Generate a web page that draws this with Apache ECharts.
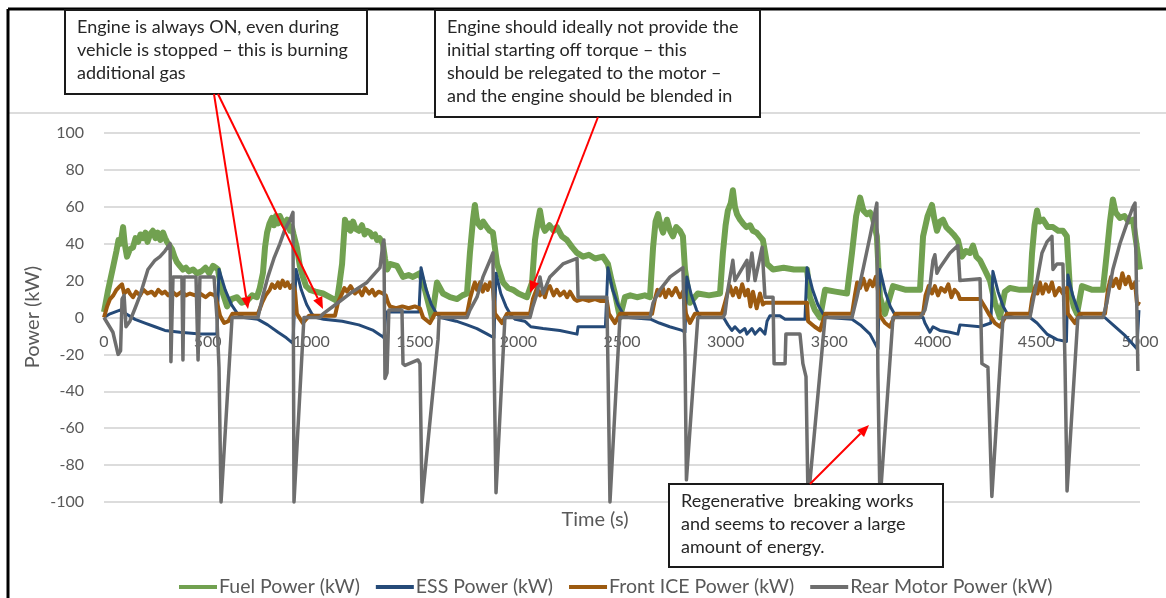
<!DOCTYPE html>
<html>
<head>
<meta charset="utf-8">
<script src="https://cdn.jsdelivr.net/npm/echarts@6/dist/echarts.min.js"></script>
<style>
  html, body { margin: 0; padding: 0; background: #ffffff; }
  #chart { width: 1166px; height: 598px; }
</style>
</head>
<body>
<div id="chart"></div>
<script>
// Power traces over the drive cycle: [time (s), power (kW)]
const fuelPower = [
  [0,3],[20,15],[45,28],[60,36],[70,42],[80,40],[92,49],[100,40],[111,33],[125,37],[140,38],[152,43],[165,41],[176,45],[188,43],[200,46],[210,41],[222,45],[236,47],[248,43],[260,46],[272,42],[285,46],[295,43],[304,41],[316,39],[328,37],[340,33],[352,30],[366,28],[381,26],[395,27],[410,25],[430,26],[449,24],[470,25],[490,27],[508,24],[526,28],[540,27],[550,26],[562,18],[574,13],[594,6],[615,10],[642,11],[665,8],[690,9],[715,12],[738,11],[752,16],[767,24],[777,38],[787,46],[799,51],[811,54],[820,50],[830,55],[840,51],[849,55],[860,52],[870,50],[884,53],[898,47],[907,49],[915,45],[931,38],[945,28],[960,22],[975,17],[994,15],[1020,14],[1057,13],[1090,11],[1124,9],[1136,18],[1149,29],[1163,53],[1172,48],[1180,51],[1190,47],[1202,52],[1215,48],[1230,47],[1245,50],[1258,45],[1269,47],[1284,46],[1295,44],[1308,45],[1318,42],[1330,43],[1346,40],[1356,32],[1366,26],[1380,29],[1414,28],[1443,22],[1470,23],[1491,22],[1525,24],[1549,15],[1583,0],[1607,19],[1636,13],[1670,11],[1704,10],[1730,12],[1752,13],[1766,35],[1781,53],[1790,61],[1798,54],[1805,51],[1818,49],[1830,52],[1848,49],[1862,47],[1877,46],[1897,29],[1926,19],[1950,16],[1974,15],[2000,13],[2041,11],[2066,19],[2080,42],[2094,52],[2104,58],[2116,50],[2128,47],[2150,50],[2170,47],[2186,49],[2210,44],[2234,42],[2260,38],[2283,35],[2312,33],[2340,34],[2370,32],[2408,33],[2432,29],[2450,20],[2466,13],[2490,0],[2514,11],[2540,12],[2572,11],[2610,12],[2635,11],[2650,38],[2662,52],[2674,56],[2686,50],[2698,46],[2717,53],[2732,47],[2746,44],[2762,49],[2780,47],[2794,44],[2804,26],[2828,8],[2866,13],[2920,12],[2973,13],[2987,35],[3000,50],[3011,58],[3025,62],[3035,69],[3045,60],[3055,56],[3070,53],[3084,51],[3100,49],[3118,50],[3132,47],[3150,46],[3165,44],[3180,42],[3200,29],[3229,26],[3280,27],[3330,26],[3393,26],[3407,11],[3431,4],[3456,0],[3480,15],[3530,14],[3586,13],[3610,35],[3630,55],[3649,65],[3665,58],[3682,56],[3697,57],[3711,54],[3730,44],[3745,11],[3769,2],[3808,17],[3870,15],[3938,15],[3953,44],[3975,55],[3996,61],[4008,53],[4020,47],[4035,52],[4049,53],[4065,49],[4083,47],[4100,45],[4121,42],[4141,33],[4160,36],[4179,35],[4194,39],[4210,33],[4228,31],[4250,26],[4276,20],[4300,8],[4324,0],[4348,14],[4372,16],[4420,15],[4469,15],[4479,35],[4491,50],[4503,58],[4515,52],[4532,53],[4555,49],[4580,49],[4605,47],[4628,47],[4647,44],[4662,15],[4680,6],[4696,2],[4720,17],[4770,15],[4821,15],[4840,35],[4855,52],[4869,64],[4882,57],[4903,54],[4925,55],[4945,52],[4966,53],[4985,38],[5000,26]
];

const essPower = [
  [0,0],[29,2],[77,4],[106,2],[150,-1],[198,-3],[246,-5],[294,-7],[367,-8],[463,-9],[545,-9],[555,26],[585,15],[615,7],[645,2],[675,0],[743,-1],[790,-4],[840,-8],[880,-11],[912,-14],[920,-14],[927,26],[952,15],[978,7],[1003,2],[1025,0],[1060,-1],[1150,-2],[1230,-4],[1300,-7],[1340,-10],[1351,-11],[1361,3],[1520,3],[1530,27],[1555,15],[1580,7],[1605,2],[1625,0],[1700,-2],[1752,-4],[1800,-6],[1850,-9],[1882,-11],[1892,24],[1915,13],[1940,6],[1965,1],[1985,-1],[2030,-2],[2041,-3],[2060,-5],[2119,-6],[2128,-5],[2200,-7],[2283,-9],[2288,-5],[2420,-5],[2432,27],[2455,15],[2480,7],[2505,2],[2530,0],[2640,-1],[2680,-3],[2730,-5],[2790,-7],[2804,-8],[2813,22],[2835,12],[2860,4],[2880,0],[2990,0],[3011,-4],[3030,-7],[3045,-5],[3069,-8],[3093,-6],[3103,-9],[3127,-6],[3142,-9],[3166,-6],[3190,-9],[3200,-2],[3214,1],[3262,1],[3287,-1],[3383,-1],[3393,27],[3420,15],[3445,7],[3470,2],[3495,0],[3610,-1],[3650,-4],[3697,-9],[3735,-17],[3745,26],[3770,14],[3795,6],[3820,1],[3842,0],[3953,0],[3962,-3],[3986,-8],[4001,-5],[4034,-7],[4083,-8],[4121,-9],[4131,-4],[4228,-5],[4280,-3],[4290,25],[4315,14],[4340,6],[4365,1],[4390,0],[4469,0],[4503,-3],[4551,-9],[4600,-12],[4645,-13],[4652,23],[4675,12],[4700,4],[4720,0],[4830,0],[4870,-4],[4930,-10],[4985,-17],[4995,4]
];

const frontIcePower = [
  [0,0],[15,6],[29,10],[45,12],[60,15],[77,17],[87,18],[97,13],[106,12],[116,15],[125,13],[140,11],[155,14],[174,12],[190,15],[210,13],[230,14],[246,12],[262,15],[280,13],[294,14],[310,12],[330,14],[350,12],[376,14],[395,12],[415,13],[440,12],[463,13],[490,11],[512,13],[536,12],[550,6],[560,1],[580,-3],[600,-2],[620,2],[743,2],[763,8],[780,12],[800,15],[811,18],[825,16],[840,19],[849,16],[862,20],[874,17],[886,19],[898,16],[912,18],[922,14],[931,2],[960,-3],[990,1],[1115,1],[1129,8],[1149,13],[1160,16],[1173,14],[1190,17],[1211,13],[1230,15],[1245,12],[1260,16],[1280,13],[1295,15],[1308,12],[1325,14],[1346,13],[1360,12],[1371,8],[1380,6],[1410,5],[1440,6],[1470,5],[1500,6],[1525,5],[1540,0],[1573,-3],[1597,2],[1752,2],[1766,10],[1781,16],[1790,19],[1800,15],[1815,19],[1828,14],[1840,18],[1852,15],[1863,19],[1877,16],[1887,2],[1921,-3],[1945,2],[2056,2],[2070,10],[2090,16],[2104,12],[2118,15],[2128,11],[2140,16],[2152,17],[2170,12],[2185,15],[2201,12],[2220,14],[2235,11],[2249,14],[2270,10],[2283,9],[2310,10],[2340,9],[2370,10],[2394,9],[2427,9],[2437,2],[2466,-3],[2490,2],[2645,2],[2659,10],[2671,15],[2683,12],[2697,16],[2710,11],[2725,15],[2740,12],[2760,16],[2780,11],[2794,14],[2809,2],[2828,-3],[2852,2],[2982,2],[2997,8],[3011,14],[3021,17],[3035,12],[3050,16],[3065,11],[3080,18],[3095,12],[3108,15],[3120,6],[3132,14],[3150,5],[3166,13],[3180,7],[3190,8],[3214,8],[3260,8],[3300,8],[3350,8],[3393,8],[3398,-2],[3430,-5],[3456,-7],[3480,2],[3610,2],[3624,12],[3635,19],[3649,16],[3665,21],[3680,15],[3697,20],[3710,17],[3725,22],[3735,15],[3745,1],[3770,-3],[3793,-5],[3820,2],[3953,2],[3965,12],[3980,17],[3996,13],[4010,17],[4025,12],[4040,16],[4059,14],[4075,18],[4090,11],[4105,15],[4121,13],[4131,10],[4160,10],[4200,10],[4228,10],[4250,6],[4270,2],[4300,-3],[4324,-5],[4358,2],[4469,2],[4479,10],[4495,17],[4505,13],[4517,19],[4530,13],[4545,18],[4560,14],[4575,19],[4590,12],[4610,16],[4628,13],[4647,16],[4652,2],[4686,-3],[4710,2],[4831,2],[4845,15],[4860,22],[4869,17],[4885,21],[4900,16],[4915,24],[4930,18],[4945,22],[4960,16],[4976,19],[4985,8],[5000,7]
];

const rearMotorPower = [
  [0,0],[43,-8],[68,-20],[80,-18],[87,10],[97,12],[106,-5],[125,-2],[150,5],[174,12],[212,26],[246,31],[270,33],[294,36],[319,40],[323,-24],[333,22],[376,22],[381,-23],[386,22],[444,22],[454,-23],[463,22],[531,22],[545,0],[555,-27],[565,-100],[618,0],[743,0],[763,10],[791,22],[820,32],[849,40],[874,48],[898,53],[912,57],[917,-100],[965,0],[1042,0],[1057,2],[1129,8],[1187,13],[1269,19],[1332,27],[1346,40],[1351,42],[1356,-33],[1366,-30],[1375,4],[1438,4],[1443,-25],[1453,-26],[1515,-23],[1525,-25],[1535,-100],[1612,-12],[1617,0],[1752,0],[1766,4],[1800,11],[1829,22],[1863,31],[1877,35],[1882,-20],[1892,-95],[1935,0],[2056,0],[2070,6],[2090,13],[2104,22],[2119,13],[2152,22],[2215,29],[2283,32],[2288,11],[2427,11],[2432,-25],[2442,-100],[2490,0],[2635,0],[2650,8],[2683,15],[2732,22],[2794,27],[2804,-20],[2811,-88],[2866,0],[2987,0],[2997,2],[3011,15],[3035,31],[3045,20],[3103,31],[3108,20],[3127,35],[3142,20],[3176,38],[3190,11],[3229,11],[3234,-25],[3287,-25],[3291,-9],[3359,-9],[3373,-25],[3388,-32],[3398,-100],[3480,0],[3610,0],[3634,11],[3663,26],[3697,44],[3730,62],[3735,-30],[3745,-100],[3808,0],[3938,0],[3962,4],[3986,17],[4001,31],[4010,34],[4020,24],[4034,27],[4083,35],[4121,39],[4131,20],[4228,21],[4237,-25],[4266,-27],[4285,-97],[4339,0],[4469,0],[4479,6],[4503,20],[4527,35],[4551,41],[4575,44],[4580,26],[4599,29],[4628,29],[4638,-25],[4648,-94],[4700,0],[4821,0],[4840,8],[4869,26],[4903,40],[4937,51],[4966,60],[4976,62],[4990,-29]
];

// Axis tick values
const timeTicks = [0, 500, 1000, 1500, 2000, 2500, 3000, 3500, 4000, 4500, 5000];
const powerTicks = [-100, -80, -60, -40, -20, 0, 20, 40, 60, 80, 100];

const seriesNames = ['Fuel Power (kW)', 'ESS Power (kW)', 'Front ICE Power (kW)', 'Rear Motor Power (kW)'];
const seriesColors = ['#71A150', '#254A78', '#9C5A10', '#6E6E6E'];
const seriesWidths = [6, 3, 4, 3.5];
const seriesData = [fuelPower, essPower, frontIcePower, rearMotorPower];

const FONT = 'Lato, "Liberation Sans", sans-serif';
const TEXT_COLOR = '#595959';

// Callout notes
const notes = [
  { x: 65, y: 10, w: 302, h: 84,
    lines: ['Engine is always ON, even during', 'vehicle is stopped \u2013 this is burning', 'additional gas'] },
  { x: 435, y: 10, w: 325, h: 107,
    lines: ['Engine should ideally not provide the', 'initial starting off torque \u2013 this', 'should be relegated to the motor \u2013', 'and the engine should be blended in'] },
  { x: 669, y: 484, w: 274, h: 83,
    lines: ['Regenerative  breaking works', 'and seems to recover a large', 'amount of energy.'] }
];
const pointers = [
  [214, 94, 248, 309],
  [218, 94, 323, 309],
  [598, 117, 530, 293],
  [810, 484, 869, 425]
];

function arrowElements(x1, y1, x2, y2) {
  const ang = Math.atan2(y2 - y1, x2 - x1);
  const len = 12, half = 5;
  const bx = x2 - len * Math.cos(ang), by = y2 - len * Math.sin(ang);
  const px = -Math.sin(ang) * half, py = Math.cos(ang) * half;
  return [
    { type: 'line', z: 110, silent: true,
      shape: { x1: x1, y1: y1, x2: bx, y2: by },
      style: { stroke: '#FF0000', lineWidth: 2 } },
    { type: 'polygon', z: 110, silent: true,
      shape: { points: [[x2, y2], [bx + px, by + py], [bx - px, by - py]] },
      style: { fill: '#FF0000' } }
  ];
}

const graphics = [
  // outer frame edges and chart-area top rule
  { type: 'line', z: 90, silent: true, shape: { x1: 8, y1: 9, x2: 1166, y2: 9 }, style: { stroke: '#000', lineWidth: 3 } },
  { type: 'line', z: 90, silent: true, shape: { x1: 8, y1: 9, x2: 8, y2: 598 }, style: { stroke: '#000', lineWidth: 3 } },
  { type: 'line', z: 1, silent: true, shape: { x1: 9, y1: 113, x2: 1166, y2: 113 }, style: { stroke: '#D0D0D0', lineWidth: 1.5 } },
  // axis titles
  { type: 'text', z: 5, silent: true, x: 33, y: 317, rotation: Math.PI / 2,
    style: { text: 'Power (kW)', fill: TEXT_COLOR, font: '20px ' + FONT, align: 'center', verticalAlign: 'middle' } },
  { type: 'text', z: 5, silent: true, x: 595, y: 520,
    style: { text: 'Time (s)', fill: TEXT_COLOR, font: '20px ' + FONT, align: 'center', verticalAlign: 'middle' } }
];
notes.forEach(function (n) {
  graphics.push({ type: 'rect', z: 100, silent: true,
    shape: { x: n.x, y: n.y, width: n.w, height: n.h },
    style: { fill: '#ffffff', stroke: '#1a1a1a', lineWidth: 2 } });
  graphics.push({ type: 'text', z: 101, silent: true, x: n.x + 12, y: n.y + 6,
    style: { text: n.lines.join('\n'), fill: '#262626', font: '18px ' + FONT, lineHeight: 23, verticalAlign: 'top' } });
});
pointers.forEach(function (p) {
  arrowElements(p[0], p[1], p[2], p[3]).forEach(function (e) { graphics.push(e); });
});

const lineSeries = seriesNames.map(function (name, i) {
  return {
    name: name, type: 'line', data: seriesData[i],
    showSymbol: false, symbol: 'none', clip: false, z: 3 + i,
    color: seriesColors[i],
    lineStyle: { color: seriesColors[i], width: seriesWidths[i], join: 'round' }
  };
});

// Time tick labels sit along the zero line, underneath the traces
const timeLabelSeries = {
  name: 'timeLabels', type: 'scatter', z: 1, silent: true,
  data: timeTicks.map(function (t) { return [t, 0]; }),
  symbol: 'circle', symbolSize: 1,
  itemStyle: { color: 'rgba(255,255,255,0)' },
  label: {
    show: true, position: 'bottom', distance: 16,
    color: TEXT_COLOR, fontSize: 16, fontFamily: FONT, opacity: 1,
    formatter: function (p) { return String(p.value[0]); }
  },
  labelLayout: { hideOverlap: false }
};

const chart = echarts.init(document.getElementById('chart'), null, { renderer: 'canvas' });
chart.setOption({
  animation: false,
  backgroundColor: '#ffffff',
  grid: { left: 104, right: 26, top: 133, bottom: 96 },
  legend: {
    data: seriesNames,
    left: 174, top: 572,
    icon: 'rect', itemWidth: 38, itemHeight: 4, itemGap: 16,
    textStyle: { color: TEXT_COLOR, fontSize: 19.5, fontFamily: FONT, padding: [0, 0, 0, -3] }
  },
  xAxis: {
    type: 'value',
    min: timeTicks[0], max: timeTicks[timeTicks.length - 1],
    interval: timeTicks[1] - timeTicks[0],
    axisLine: { show: false },
    axisTick: { show: false },
    splitLine: { show: false },
    axisLabel: { show: false }
  },
  yAxis: {
    type: 'value',
    min: powerTicks[0], max: powerTicks[powerTicks.length - 1],
    interval: powerTicks[1] - powerTicks[0],
    axisLine: { show: false },
    axisTick: { show: false },
    splitLine: { show: true, lineStyle: { color: '#D0D0D0', width: 1.5 } },
    axisLabel: { color: TEXT_COLOR, fontSize: 16, fontFamily: FONT, margin: 20 }
  },
  series: lineSeries.concat([timeLabelSeries]),
  graphic: { elements: graphics }
});
</script>
</body>
</html>
